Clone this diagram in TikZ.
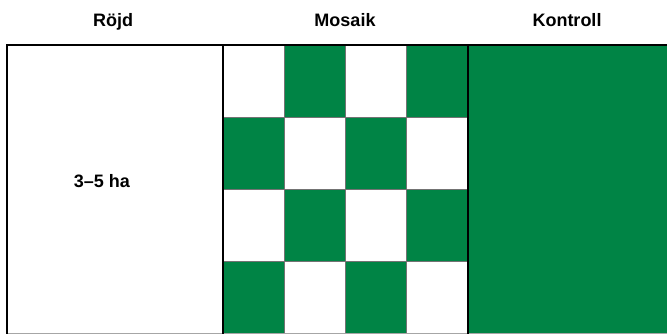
\documentclass[tikz,border=0pt]{standalone}
\usepackage{fontspec}
\setmainfont{Liberation Sans}
\usetikzlibrary{positioning}
\definecolor{skog}{RGB}{0,132,69}

\begin{document}
\begin{tikzpicture}[
        x=1pt, y=-1pt,
        font=\fontsize{18}{21}\selectfont\bfseries,
        frame/.style={draw=black, line width=2pt},
        cell/.style={draw=black!55, line width=0.8pt},
        lbl/.style={inner sep=0pt, anchor=base},
    ]
    \useasboundingbox (0,0) rectangle (667,334);

    % Kontroll area
    \fill[skog] (468,45) rectangle (667,334);

    % Mosaik checkerboard
    \foreach \c in {0,...,3}
        \foreach \r in {0,...,3} {
            \pgfmathtruncatemacro{\odd}{mod(\c+\r,2)}
            \ifnum\odd=1 \def\cellcol{skog}\else\def\cellcol{white}\fi
            \filldraw[cell, fill=\cellcol] (223+61.25*\c,45+72.25*\r) rectangle ++(61.25,72.25);
        }

    % Frame
    \draw[black!35, line width=0.8pt] (7,333.5) -- (667,333.5);
    \draw[frame] (7,334) -- (7,45) -- (667,45);
    \draw[frame] (223,45) -- (223,334);
    \draw[frame] (468,45) -- (468,334);

    % Labels
    \node[lbl] (roejd) at (113,27) {Röjd};
    \node[lbl] (mosaik) at (345,27) {Mosaik};
    \node[lbl] (kontroll) at (567,27) {Kontroll};
    \node[lbl] (area) at (102,187) {3–5 ha};
\end{tikzpicture}
\end{document}
